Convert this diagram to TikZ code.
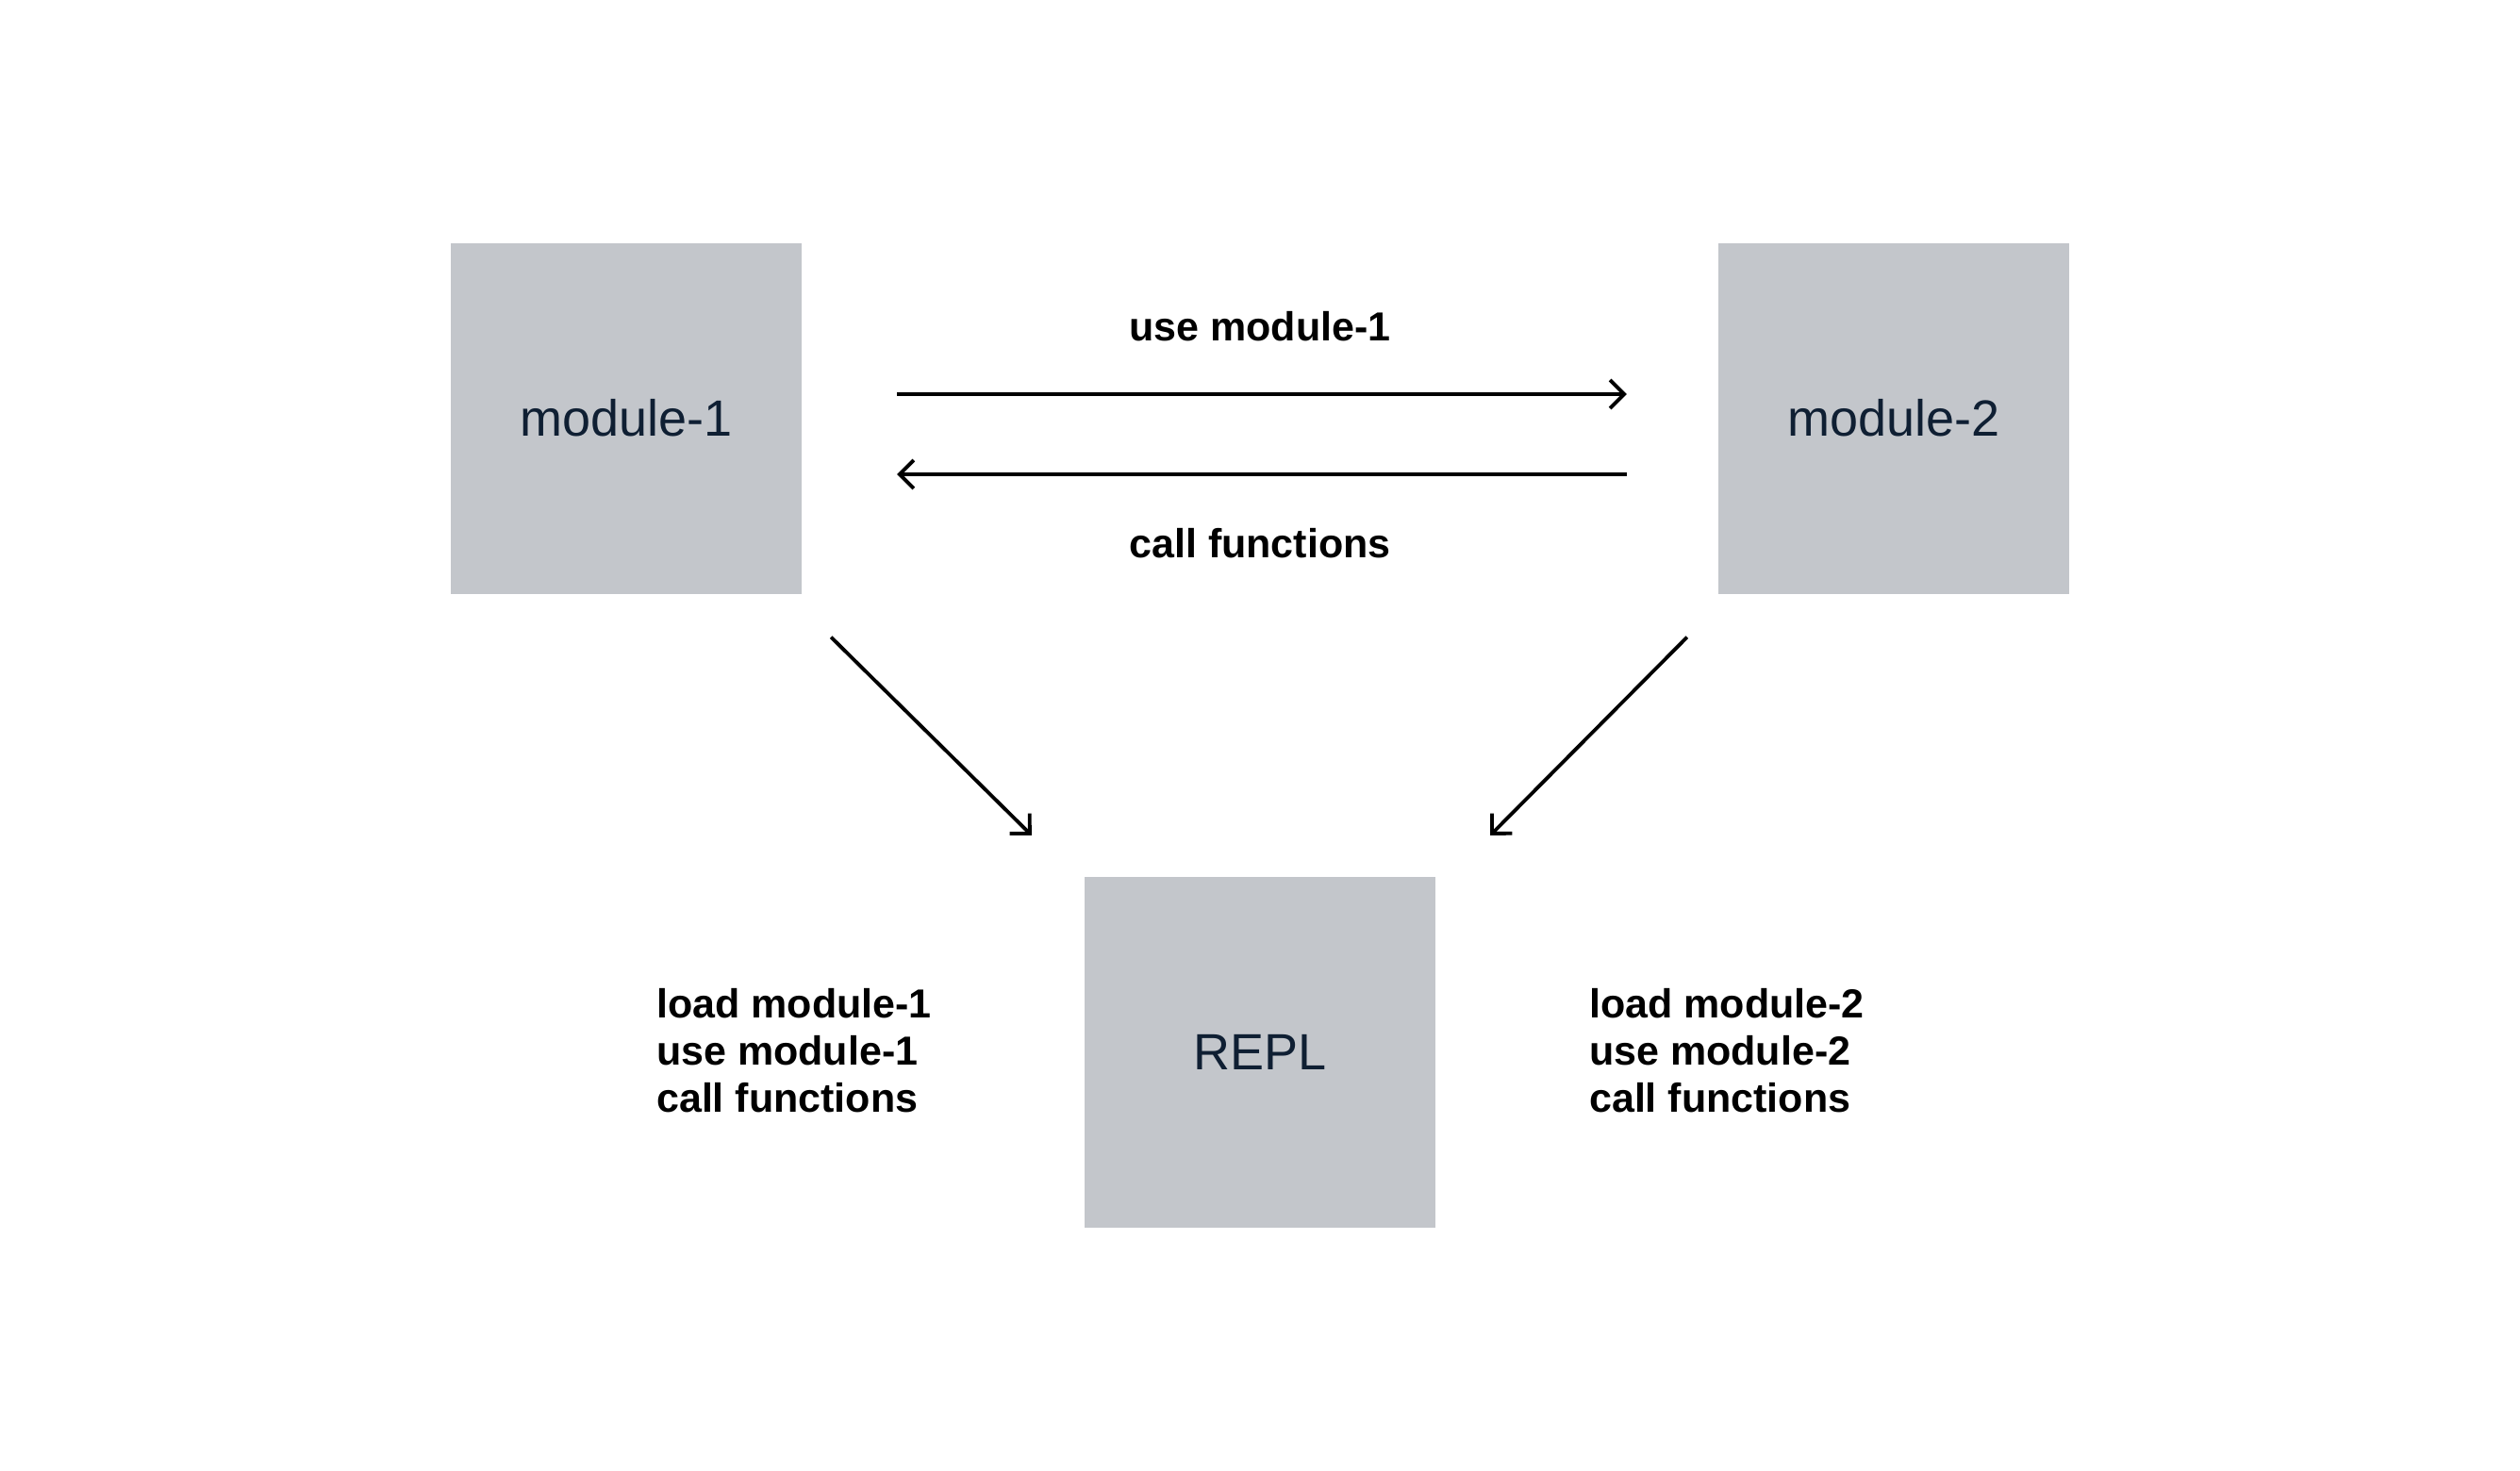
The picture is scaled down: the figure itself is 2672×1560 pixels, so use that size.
\documentclass[tikz,border=0pt]{standalone}
\usepackage{fontspec}
\setmainfont{Liberation Sans}
\usetikzlibrary{arrows.meta}
\definecolor{boxgray}{HTML}{C3C6CB}
\definecolor{boxtext}{HTML}{0F1F33}
\tikzset{
  modbox/.style={fill=boxgray, draw=none, minimum width=372pt, minimum height=372pt, inner sep=0pt,
    text=boxtext, font=\fontsize{54}{62}\selectfont},
  arr/.style={line width=3.8pt, -{Straight Barb[length=15pt, width=30pt, line width=3.8pt]}},
  lbl/.style={font=\fontsize{43}{50}\selectfont\bfseries, text=black, inner sep=0pt},
}
\begin{document}
\begin{tikzpicture}[x=1pt, y=-1pt]
\useasboundingbox[fill=white] (0,0) rectangle (2672,1560);
\node[modbox] (m1) at (664,443.5) {module-1};
\node[modbox] (m2) at (2008,443.5) {module-2};
\node[modbox] (repl) at (1336,1116) {REPL};

\draw[arr] ([shift={(101,-25.5)}]m1.east) -- ([shift={(-97,-25.5)}]m2.west);
\draw[arr] ([shift={(-97,59.5)}]m2.west) -- ([shift={(101,59.5)}]m1.east);
\draw[arr] ([shift={(31,46)}]m1.south east) -- ([shift={(-56,-44)}]repl.north west);
\draw[arr] ([shift={(-33,46)}]m2.south west) -- ([shift={(58,-44)}]repl.north east);

\node[lbl] (l1) at (1336,346) {use module-1};
\node[lbl] (l2) at (1336,576) {call functions};
\node[lbl, anchor=west, align=left] (l3) at (696,1114) {load module-1\\use module-1\\call functions};
\node[lbl, anchor=west, align=left] (l4) at (1685,1114) {load module-2\\use module-2\\call functions};
\end{tikzpicture}
\end{document}
